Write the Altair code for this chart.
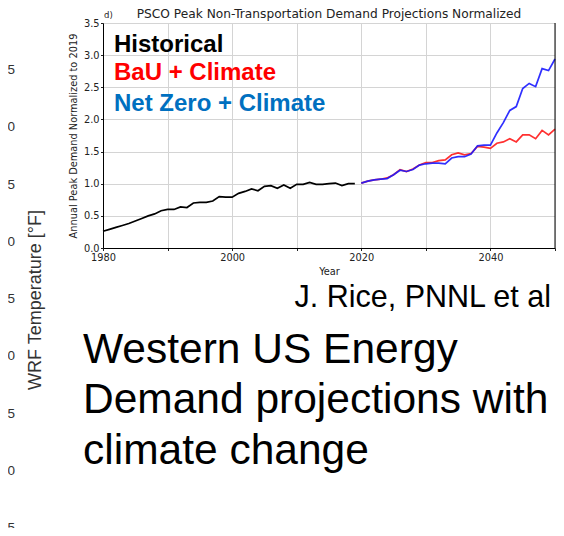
import altair as alt
import pandas as pd

# ---- data ----
hist_years = list(range(1980, 2020))
hist_vals = [0.26, 0.29, 0.32, 0.35, 0.38, 0.42, 0.46, 0.50, 0.53, 0.58,
             0.60, 0.60, 0.64, 0.63, 0.70, 0.71, 0.71, 0.73, 0.80, 0.79,
             0.79, 0.85, 0.88, 0.92, 0.89, 0.96, 0.97, 0.93, 0.98, 0.93,
             0.99, 0.99, 1.02, 0.99, 0.99, 1.00, 1.01, 0.97, 1.00, 1.00]
proj_years = list(range(2020, 2051))
bau_vals = [1.01, 1.04, 1.06, 1.07, 1.09, 1.14, 1.22, 1.19, 1.23, 1.29,
            1.33, 1.33, 1.36, 1.37, 1.45, 1.48, 1.45, 1.47, 1.58, 1.57,
            1.55, 1.63, 1.65, 1.70, 1.65, 1.76, 1.76, 1.70, 1.83, 1.76, 1.85]
nz_vals = [1.01, 1.04, 1.06, 1.07, 1.08, 1.14, 1.21, 1.19, 1.22, 1.29,
           1.31, 1.32, 1.32, 1.31, 1.40, 1.42, 1.42, 1.46, 1.59, 1.60,
           1.60, 1.79, 1.95, 2.14, 2.20, 2.48, 2.56, 2.51, 2.79, 2.76, 2.94]
x_ticks = list(range(1980, 2051, 10))
y_ticks = [0.0, 0.5, 1.0, 1.5, 2.0, 2.5, 3.0, 3.5]
# partial tick labels of the neighbouring (cropped) temperature chart
temp_ticks = [105, 100, 95, 90, 85, 80, 75, 70, 65]

W, H = 452, 225
AX_FONT = "DejaVu Sans"
SLIDE_FONT = "Liberation Sans"

df_hist = pd.DataFrame({"year": hist_years, "val": hist_vals})
df_bau = pd.DataFrame({"year": proj_years, "val": bau_vals})
df_nz = pd.DataFrame({"year": proj_years, "val": nz_vals})

xaxis = alt.Axis(values=x_ticks, format="d",
                 labelExpr="datum.value % 20 == 0 && datum.value < 2050 ? datum.label : ''",
                 title="Year", titleFont=AX_FONT, titleFontSize=9.8,
                 titleFontWeight="normal", titleColor="#222",
                 titlePadding=4, labelFont=AX_FONT, labelFontSize=9.8,
                 labelColor="#222", labelPadding=2, tickSize=2.5,
                 tickColor="#222", domainColor="#000", domainWidth=1,
                 gridColor="#d4d4d4", gridWidth=1, labelFlush=False,
                 labelOverlap=False)
yaxis = alt.Axis(values=y_ticks, format=".1f", tickCount=8,
                 title="Annual Peak Demand Normalized to 2019",
                 titleFont=AX_FONT, titleFontSize=9.8,
                 titleFontWeight="normal", titleColor="#222",
                 titlePadding=4.5, labelFont=AX_FONT, labelFontSize=9.8,
                 labelColor="#222", labelPadding=1.5, tickSize=2.5,
                 tickColor="#222", domainColor="#000", domainWidth=1,
                 gridColor="#d4d4d4", gridWidth=1, labelFlush=False,
                 labelOverlap=False)
xscale = alt.Scale(domain=[1980, 2050], nice=False, zero=False)
yscale = alt.Scale(domain=[0, 3.5], nice=False)


def series(df, color, opacity):
    return alt.Chart(df).mark_line(color=color, strokeWidth=1.7, opacity=opacity).encode(
        x=alt.X("year:Q", scale=xscale, axis=xaxis),
        y=alt.Y("val:Q", scale=yscale, axis=yaxis),
    )


hist = series(df_hist, "#000000", 1.0)
bau = series(df_bau, "#ff1a1a", 0.9)
nz = series(df_nz, "#1a1aff", 0.9)
frame_right = alt.Chart(pd.DataFrame({"a": [0]})).mark_rule(color="#000", strokeWidth=1).encode(
    x=alt.value(W), y=alt.value(0), y2=alt.value(H))

lines = alt.layer(hist, bau, nz, frame_right)

remnant = alt.Chart(pd.DataFrame({"temp": temp_ticks})).mark_text(
    font=SLIDE_FONT, fontSize=13.5, color="#333", align="right", baseline="middle"
).encode(
    x=alt.value(-88),
    y=alt.Y("temp:Q", scale=alt.Scale(domain=[105, 65], range=[47, 505]), axis=None),
    text=alt.Text("temp:Q"),
)


def txt(s, x, y, size, color="#000", weight="normal", font=SLIDE_FONT,
        align="left", angle=0, baseline="alphabetic"):
    return alt.Chart(pd.DataFrame({"t": [s]})).mark_text(
        font=font, fontSize=size, color=color, fontWeight=weight,
        align=align, angle=angle, baseline=baseline
    ).encode(text="t:N", x=alt.value(x), y=alt.value(y))


texts = [
    txt("d)", 1, -5, 8.5, color="#222", font=AX_FONT),
    txt("PSCO Peak Non-Transportation Demand Projections Normalized", W / 2, -5, 12.2,
        color="#222", font=AX_FONT, align="center"),
    txt("Historical", 11, 28.7, 24, color="#000000", weight="bold"),
    txt("BaU + Climate", 11, 57, 24, color="#ff0000", weight="bold"),
    txt("Net Zero + Climate", 11, 87.5, 24, color="#0070c0", weight="bold"),
    txt("WRF Temperature [°F]", -67, 277, 18, color="#333", align="center",
        angle=270, baseline="middle"),
    txt("J. Rice, PNNL et al", 448, 283.7, 30.5, align="right"),
    txt("Western US Energy", -20, 339.7, 42.5),
    txt("Demand projections with", -20, 390.3, 42.5),
    txt("climate change", -20, 441, 42.5),
]

chart = alt.layer(lines, remnant, *texts).resolve_scale(y="independent").properties(
    width=W, height=H,
    autosize=alt.AutoSizeParams(type="none"),
    padding={"left": 95, "top": 15, "right": 1, "bottom": 280},
).configure_view(stroke=None).configure(background="white")

chart.save("out.html", embed_options={"renderer": "svg", "actions": False})
